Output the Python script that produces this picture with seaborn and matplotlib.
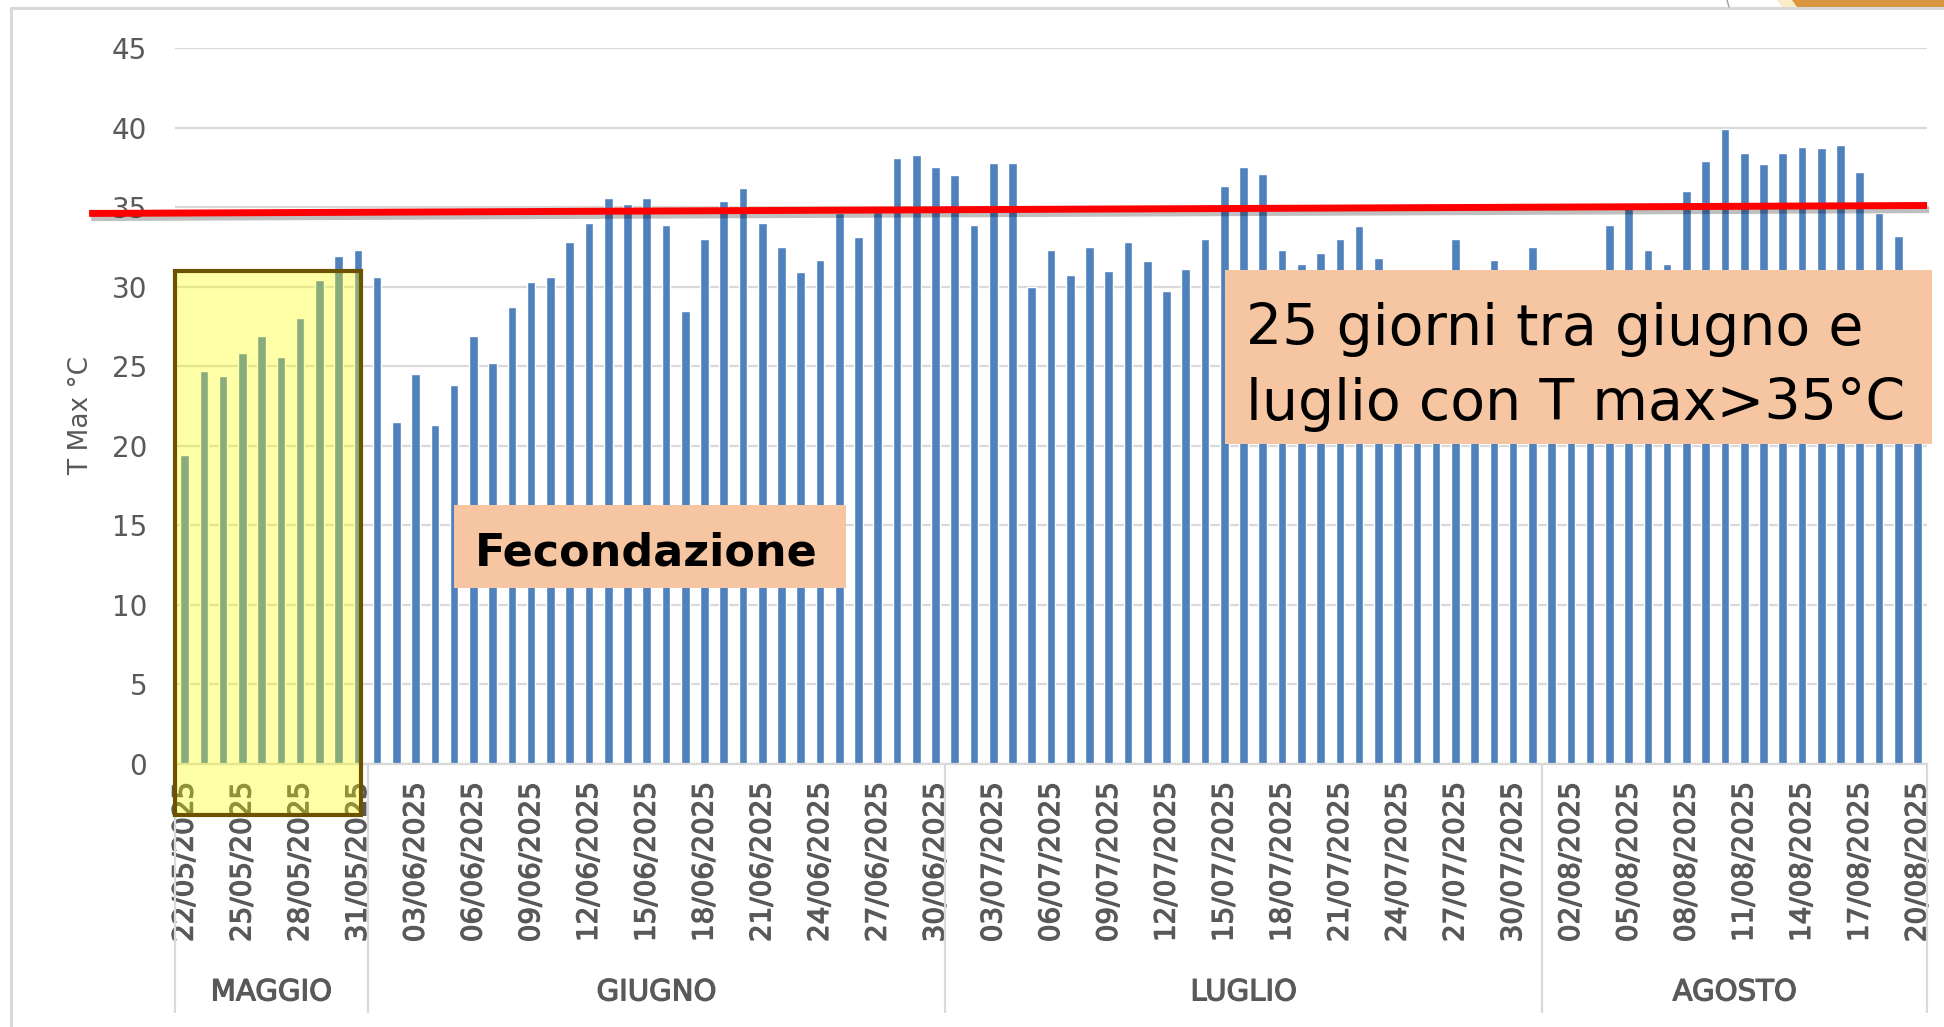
import numpy as np
import pandas as pd
import matplotlib.pyplot as plt
import matplotlib.patches as mpatches
import matplotlib.patheffects as pe
import matplotlib.transforms as mtransforms
import seaborn as sns

# daily maximum temperature, 22/05/2025 -> 20/08/2025
days = pd.date_range("2025-05-22", "2025-08-20", freq="D")
t_max = [
    19.4, 24.7, 24.4, 25.8, 26.9, 25.6, 28.0, 30.4, 31.9, 32.3,            # maggio
    30.6, 21.5, 24.5, 21.3, 23.8, 26.9, 25.2, 28.7, 30.3, 30.6,            # giugno
    32.8, 34.0, 35.6, 35.2, 35.6, 33.9, 28.5, 33.0, 35.4, 36.2,
    34.0, 32.5, 30.9, 31.7, 34.6, 33.1, 34.7, 38.1, 38.3, 37.5,
    37.0, 33.9, 37.8, 37.8, 30.0, 32.3, 30.7, 32.5, 31.0, 32.8,            # luglio
    31.6, 29.7, 31.1, 33.0, 36.3, 37.5, 37.1, 32.3, 31.4, 32.1,
    33.0, 33.8, 31.8, 30.0, 29.5, 30.4, 33.0, 30.2, 31.7, 30.5, 32.5,
    29.8, 30.6, 31.1, 33.9, 35.0, 32.3, 31.4, 36.0, 37.9, 39.9,            # agosto
    38.4, 37.7, 38.4, 38.8, 38.7, 38.9, 37.2, 34.6, 33.2, 29.5,
]
month_names = ["MAGGIO", "GIUGNO", "LUGLIO", "AGOSTO"]
red_line_y = [34.6, 35.1]          # hand drawn 35 °C threshold
highlight_days = 10                # fecondazione window (maggio)
highlight_top = 31.0

df = pd.DataFrame({"data": days.strftime("%d/%m/%Y"), "tmax": t_max, "mese": days.month})

sns.set_style("white")
plt.rcParams["font.family"] = ["DejaVu Sans"]
grey = "#595959"
light = "#D9D9D9"
thick = [pe.withStroke(linewidth=0.9, foreground=grey)]

fig = plt.figure(figsize=(19.44, 10.27), dpi=100)
ax = fig.add_axes([0.0900, 0.2561, 0.9013, 0.6972])

sns.barplot(data=df, x="data", y="tmax", color="#4F81BD", saturation=1,
            width=0.45, ax=ax, zorder=2)

ax.set_xlim(-0.5, len(df) - 0.5)
ax.set_ylim(0, 45)
ax.set_yticks(range(0, 50, 5))
ax.grid(axis="y", color=light, lw=1.6)
ax.set_axisbelow(True)
for s in ["left", "right", "top"]:
    ax.spines[s].set_visible(False)
ax.spines["bottom"].set_color(light)
ax.spines["bottom"].set_linewidth(1.6)

tick_pos = np.arange(0, len(df), 3)
ax.set_xticks(tick_pos)
ax.set_xticklabels(df["data"].iloc[tick_pos], rotation=90)
ax.tick_params(axis="x", length=0, pad=13, labelsize=20, labelcolor=grey)
ax.tick_params(axis="y", length=0, pad=20, labelsize=20, labelcolor=grey)
for lab in ax.get_xticklabels():
    lab.set_path_effects(thick)
ax.set_xlabel("")
ax.set_ylabel("T Max °C", fontsize=19, color=grey)
ax.yaxis.set_label_coords(-0.046, 0.487)

# month level of the category axis
blend = mtransforms.blended_transform_factory(ax.transData, ax.transAxes)
counts = df.groupby("mese", sort=False).size().values
edges = np.concatenate([[0], np.cumsum(counts)]) - 0.5
for b in edges:
    ax.plot([b, b], [0, -0.347], transform=blend, color=light, lw=1.6, clip_on=False)
for name, a, b in zip(month_names, edges[:-1], edges[1:]):
    ax.text((a + b) / 2, -0.319, name, transform=blend, ha="center", va="center",
            fontsize=21, color=grey, path_effects=thick)

# red threshold line with shadow
yblend = mtransforms.blended_transform_factory(ax.transAxes, ax.transData)
ax.plot([-0.049, 1.0], red_line_y, transform=yblend, color="#FF0000", lw=5,
        solid_capstyle="butt", clip_on=False, zorder=6,
        path_effects=[pe.SimpleLineShadow(offset=(1.5, -3), shadow_color="black", alpha=0.25),
                      pe.Normal()])

# yellow highlight of the first days
ax.add_patch(mpatches.Rectangle((-0.5, -3.2), highlight_days - 0.35, highlight_top + 3.2,
                                facecolor=(1, 1, 0, 0.34), edgecolor="#6B5300", lw=3,
                                clip_on=False, zorder=7))

# annotation boxes
W, H = 1944, 1027


def fbox(x0, y0, x1, y1, **kw):
    fig.patches.append(mpatches.Rectangle((x0 / W, 1 - y1 / H), (x1 - x0) / W, (y1 - y0) / H,
                                          transform=fig.transFigure, figure=fig, **kw))


fbox(454, 505, 846, 588, facecolor="#F6C6A2", edgecolor="none")
fig.text(475 / W, 1 - 565 / H, "Fecondazione", fontsize=32, fontweight="bold",
         color="black", va="baseline")

fbox(1225, 270, 1932, 444, facecolor="#F6C6A2", edgecolor="none")
fig.text(1246 / W, 1 - 345 / H, "25 giorni tra giugno e", fontsize=41, color="black", va="baseline")
fig.text(1246 / W, 1 - 420 / H, "luglio con T max>35°C", fontsize=41, color="black", va="baseline")

# outer chart frame and slide fragment at top right
fig.add_artist(plt.Line2D([11 / W, 11 / W], [0, 1 - 8 / H], transform=fig.transFigure, color=light, lw=2.2))
fig.add_artist(plt.Line2D([11 / W, 1], [1 - 8 / H, 1 - 8 / H], transform=fig.transFigure, color=light, lw=2.2))
fbox(1792, 0, 1944, 7, facecolor="#DA953F", edgecolor="none")
fig.patches.append(mpatches.Polygon([(1777 / W, 1), (1792 / W, 1), (1797 / W, 1 - 7 / H), (1782 / W, 1 - 7 / H)],
                                    closed=True, transform=fig.transFigure, figure=fig,
                                    facecolor="#FBEBC8", edgecolor="none"))
fig.add_artist(plt.Line2D([1727 / W, 1729 / W], [1, 1 - 7 / H], transform=fig.transFigure, color="#A0A0A0", lw=1))

fig.savefig("out.png", dpi=100)
